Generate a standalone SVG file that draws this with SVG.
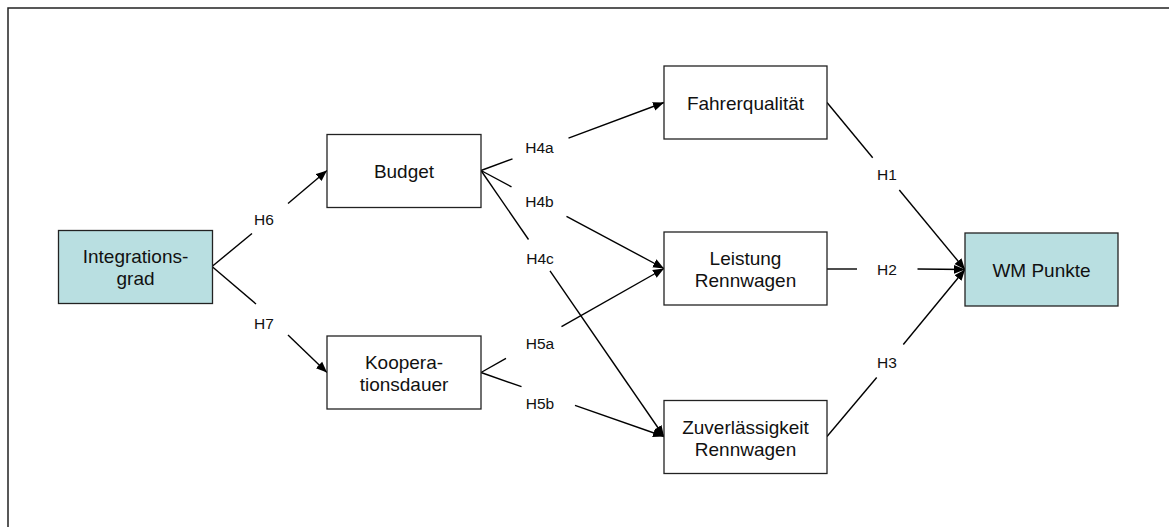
<svg xmlns="http://www.w3.org/2000/svg" width="1169" height="527" viewBox="0 0 1169 527">
<style>
.box{fill:#fff;stroke:#222;stroke-width:1.3}
.hl{fill:#b9dfe1}
.nt{font-family:"Liberation Sans",Arial,sans-serif;font-size:19px;fill:#111;text-anchor:middle}
.lb{font-family:"Liberation Sans",Arial,sans-serif;font-size:15.5px;fill:#111;text-anchor:middle}
.ln{stroke:#000;stroke-width:1.4;fill:none}
</style>
<defs>
<marker id="arr" markerUnits="userSpaceOnUse" markerWidth="12" markerHeight="10" refX="11" refY="5" orient="auto">
<path d="M0,0.5 L11,5 L0,9.5 Z" fill="#000"/>
</marker>
</defs>
<rect width="1169" height="527" fill="#fff"/>
<path d="M8,527 V8 H1169" fill="none" stroke="#222" stroke-width="1.5"/>

<g id="connectors">
<line class="ln" x1="212" y1="266.5" x2="252" y2="233.5"/>
<line class="ln" x1="288" y1="203.5" x2="327" y2="170.5" marker-end="url(#arr)"/>
<text class="lb" x="264" y="224.5">H6</text>

<line class="ln" x1="212" y1="266.5" x2="256" y2="304"/>
<line class="ln" x1="288" y1="335" x2="327" y2="372.5" marker-end="url(#arr)"/>
<text class="lb" x="264" y="328.5">H7</text>

<line class="ln" x1="481" y1="170.5" x2="512.5" y2="158.8"/>
<line class="ln" x1="568.5" y1="138.1" x2="664" y2="102.5" marker-end="url(#arr)"/>
<text class="lb" x="539.5" y="152.5">H4a</text>

<line class="ln" x1="481" y1="170.5" x2="511.5" y2="186.8"/>
<line class="ln" x1="566.5" y1="216.3" x2="664" y2="268.5" marker-end="url(#arr)"/>
<text class="lb" x="539.5" y="206.5">H4b</text>

<line class="ln" x1="481" y1="170.5" x2="528.5" y2="239.5"/>
<line class="ln" x1="550" y1="270.8" x2="664" y2="436.5" marker-end="url(#arr)"/>
<text class="lb" x="540" y="263.5">H4c</text>

<line class="ln" x1="481" y1="372.5" x2="506" y2="358.3"/>
<line class="ln" x1="561.5" y1="326.7" x2="664" y2="268.5" marker-end="url(#arr)"/>
<text class="lb" x="540" y="349">H5a</text>

<line class="ln" x1="481" y1="372.5" x2="521.5" y2="386.7"/>
<line class="ln" x1="575" y1="405.4" x2="664" y2="436.5" marker-end="url(#arr)"/>
<text class="lb" x="540" y="409">H5b</text>

<line class="ln" x1="827" y1="102.5" x2="872.7" y2="157.8"/>
<line class="ln" x1="899.3" y1="190" x2="965" y2="269.5" marker-end="url(#arr)"/>
<text class="lb" x="887" y="180">H1</text>

<line class="ln" x1="827" y1="269" x2="857" y2="269"/>
<line class="ln" x1="917.5" y1="269" x2="965" y2="269.5" marker-end="url(#arr)"/>
<text class="lb" x="887" y="275">H2</text>

<line class="ln" x1="827" y1="436.5" x2="876.7" y2="377.5"/>
<line class="ln" x1="903.3" y1="344.5" x2="965" y2="269.5" marker-end="url(#arr)"/>
<text class="lb" x="887" y="367.5">H3</text>
</g>

<g id="integrationsgrad">
<rect class="box hl" x="58.5" y="230.5" width="154" height="73"/>
<text class="nt" x="135.5" y="263">Integrations-</text>
<text class="nt" x="135.5" y="285">grad</text>
</g>
<g id="budget">
<rect class="box" x="327" y="134.5" width="154" height="73"/>
<text class="nt" x="404" y="178">Budget</text>
</g>
<g id="kooperationsdauer">
<rect class="box" x="327" y="336" width="154" height="73"/>
<text class="nt" x="404" y="369">Koopera-</text>
<text class="nt" x="404" y="391">tionsdauer</text>
</g>
<g id="fahrerqualitaet">
<rect class="box" x="664" y="66" width="163" height="73"/>
<text class="nt" x="745.5" y="110">Fahrerqualität</text>
</g>
<g id="leistung">
<rect class="box" x="664" y="232" width="163" height="73"/>
<text class="nt" x="745.5" y="265">Leistung</text>
<text class="nt" x="745.5" y="287">Rennwagen</text>
</g>
<g id="zuverlaessigkeit">
<rect class="box" x="664" y="400.5" width="163" height="73"/>
<text class="nt" x="745.5" y="433.5">Zuverlässigkeit</text>
<text class="nt" x="745.5" y="455.5">Rennwagen</text>
</g>
<g id="wmpunkte">
<rect class="box hl" x="965" y="233" width="153" height="73"/>
<text class="nt" x="1041.5" y="276.5">WM Punkte</text>
</g>
</svg>
